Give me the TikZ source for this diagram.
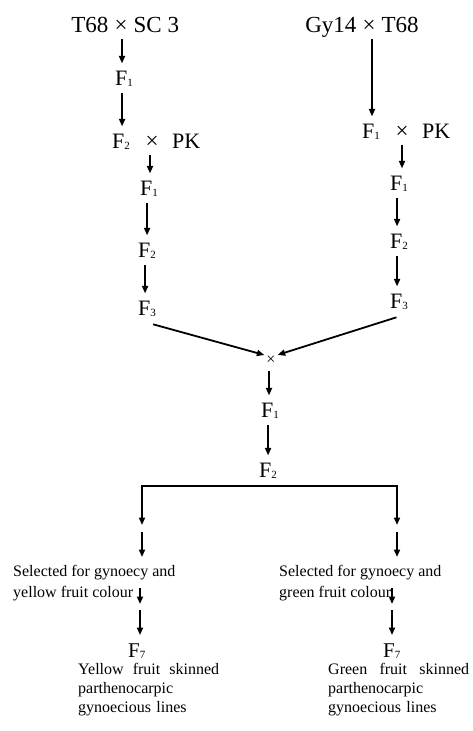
\documentclass[tikz,border=0pt]{standalone}
\usepackage{fontspec}
\setmainfont{Liberation Serif}
\usetikzlibrary{arrows.meta}
\newcommand\gsb[1]{{\fontsize{11}{11}\selectfont\raisebox{-1pt}{#1}}}
\begin{document}
\begin{tikzpicture}[x=1pt,y=-1pt,
  big/.style={font=\fontsize{23}{27}\selectfont, inner sep=0pt, anchor=base},
  gen/.style={font=\fontsize{22}{26}\selectfont, inner sep=0pt, anchor=base west},
  txt/.style={font=\fontsize{16}{21}\selectfont, inner sep=0pt, align=left, anchor=north west},
  arrN/.style={line width=1.8pt, -{Triangle[length=7.5pt,width=6pt]}},
  arr/.style={arrN, shorten <=7pt, shorten >=7pt},
  bar/.style={line width=2.6pt}
]
\useasboundingbox (0,0) rectangle (472,731);
\fill[white] (0,0) rectangle (472,731);

% left column
\node[big] (xL1) at (121,32) {×};
\node[big, anchor=base east] (tL) at ([xshift=-5.75pt]xL1.base west) {T68};
\node[big, anchor=base west] (sL) at ([xshift=5.75pt]xL1.base east) {SC 3};
\node[gen] (f1L) at (115,85) {F\gsb{1}};
\node[gen] (f2L) at (112,148) {F\gsb{2}};
\node[big] (xL2) at (152,148) {×};
\node[gen] (pkL) at (172,148) {PK};
\node[gen] (f1Lb) at (140,195) {F\gsb{1}};
\node[gen] (f2Lb) at (138,257) {F\gsb{2}};
\node[gen] (f3Lb) at (138,315) {F\gsb{3}};

\draw[arr] ([xshift=1pt]xL1.south) -- ([xshift=1pt]xL1.south |- f1L.north);
\draw[arr] ([xshift=-2pt]f1L.south) -- ([xshift=-2pt]f1L.south |- f2L.north);
\draw[arr] ([xshift=-2pt]xL2.south) -- ([xshift=-2pt]xL2.south |- f1Lb.north);
\draw[arr] ([xshift=-2pt]f1Lb.south) -- ([xshift=-2pt]f1Lb.south |- f2Lb.north);
\draw[arr] ([xshift=-2pt]f2Lb.south) -- ([xshift=-2pt]f2Lb.south |- f3Lb.north);

% right column
\node[big] (xR1) at (369,32) {×};
\node[big, anchor=base east] (gR) at ([xshift=-5.75pt]xR1.base west) {Gy14};
\node[big, anchor=base west] (tR) at ([xshift=5.75pt]xR1.base east) {T68};
\node[gen] (f1R) at (362,138) {F\gsb{1}};
\node[big] (xR2) at (402,138) {×};
\node[gen] (pkR) at (422,138) {PK};
\node[gen] (f1Rb) at (390,190) {F\gsb{1}};
\node[gen] (f2Rb) at (390,248) {F\gsb{2}};
\node[gen] (f3Rb) at (390,308) {F\gsb{3}};

\draw[arr] ([xshift=3pt]xR1.south) -- ([xshift=3pt]xR1.south |- f1R.north);
\draw[arr] (xR2.south) -- (xR2.south |- f1Rb.north);
\draw[arr] ([xshift=-2pt]f1Rb.south) -- ([xshift=-2pt]f1Rb.south |- f2Rb.north);
\draw[arr] ([xshift=-2pt]f2Rb.south) -- ([xshift=-2pt]f2Rb.south |- f3Rb.north);

% merge
\node[font=\fontsize{16}{16}\selectfont, inner sep=0pt] (xC) at (271,360) {×};
\draw[arrN, shorten >=2pt] ([xshift=-3pt,yshift=-8pt]f3Lb.south east) -- (xC.north west);
\draw[arrN, shorten >=2pt] ([xshift=6.5pt,yshift=-8pt]f3Rb.south west) -- (xC.north east);

\node[gen] (f1C) at (261,417) {F\gsb{1}};
\node[gen] (f2C) at (259,477) {F\gsb{2}};
\draw[arr] ([xshift=-2pt]xC.south) -- ([xshift=-2pt]xC.south |- f1C.north);
\draw[arr] ([xshift=-2pt]f1C.south) -- ([xshift=-2pt]f1C.south |- f2C.north);

% split bar
\coordinate (bL) at (142,486);
\coordinate (bR) at (397,486);
\draw[bar] ([xshift=-1pt]bL) -- ([xshift=1pt]bR);

\node[txt] (selL) at (13,565) {Selected for gynoecy and\\yellow fruit colour};
\node[txt] (selR) at (279,565) {Selected for gynoecy and\\green fruit colour};

\coordinate (aL1) at (142,525);
\coordinate (aL2) at (142,532);
\coordinate (aR1) at (397,525);
\coordinate (aR2) at (397,532);
\draw[arrN] (bL) -- (aL1);
\draw[arrN, shorten >=8pt] (aL2) -- (aL2 |- selL.north);
\draw[arrN] (bR) -- (aR1);
\draw[arrN, shorten >=8pt] (aR2) -- (aR2 |- selR.north);

\node[gen, font=\fontsize{21}{25}\selectfont] (f7L) at (128,657) {F\gsb{7}};
\node[gen, font=\fontsize{21}{25}\selectfont] (f7R) at (383,657) {F\gsb{7}};

\coordinate (cL1) at (140,588);
\coordinate (cL2) at (140,604);
\coordinate (dL1) at (140,610);
\coordinate (cR1) at (392,588);
\coordinate (cR2) at (392,604);
\coordinate (dR1) at (392,610);
\draw[arrN] (cL1) -- (cL2);
\draw[arrN, shorten >=8pt] (dL1) -- (dL1 |- f7L.north);
\draw[arrN] (cR1) -- (cR2);
\draw[arrN, shorten >=8pt] (dR1) -- (dR1 |- f7R.north);

\node[txt, font=\fontsize{16}{19}\selectfont, text width=141pt] (dsL) at (78,663)
  {Yellow\hfill fruit\hfill skinned\\parthenocarpic\\gynoecious lines};
\node[txt, font=\fontsize{16}{19}\selectfont, text width=141pt] (dsR) at (328,663)
  {Green\hfill fruit\hfill skinned\\parthenocarpic\\gynoecious lines};
\end{tikzpicture}
\end{document}
